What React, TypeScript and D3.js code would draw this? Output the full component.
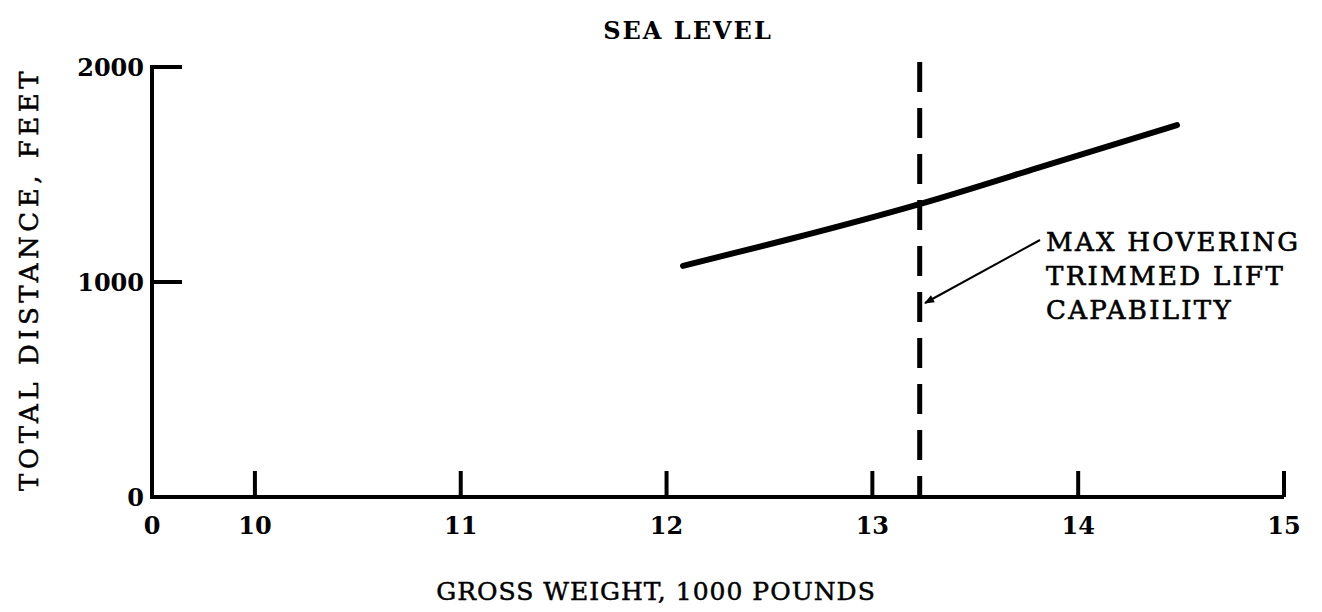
import React from 'react'
import * as d3 from 'd3'

// gross weight (1000 lb) vs total distance (ft), sea level
const weights = [12.08, 12.6, 13.22, 13.8, 14.48]
const distances = [1075, 1200, 1360, 1530, 1730]

const xTicks = [10, 11, 12, 13, 14, 15]
const yTicks = [0, 1000, 2000]
const hoverLimit = 13.23

const W = 1322
const H = 612
const serif = '"DejaVu Serif", "Liberation Serif", serif'

export default function App() {
  const x = d3.scaleLinear().domain([9.5, 15]).range([152, 1284])
  const y = d3.scaleLinear().domain([0, 2000]).range([497, 67])

  const pts: [number, number][] = weights.map((w, i) => [w, distances[i]])
  const line = d3
    .line<[number, number]>()
    .x(d => x(d[0]))
    .y(d => y(d[1]))
    .curve(d3.curveNatural)

  const x0 = x(9.5)
  const y0 = y(0)

  return (
    <svg width={W} height={H} style={{ position: 'absolute', left: 0, top: 0, background: '#fff' }}>
      <text x={688} y={39} textAnchor="middle" fontFamily={serif} fontWeight="bold" fontSize={24} letterSpacing={2}>
        SEA LEVEL
      </text>

      {/* axes */}
      <line x1={x0} y1={y(2000) - 2} x2={x0} y2={y0} stroke="#000" strokeWidth={4} />
      <line x1={x0 - 2} y1={y0} x2={x(15)} y2={y0} stroke="#000" strokeWidth={4} />
      {yTicks.filter(t => t > 0).map(t => (
        <line key={t} x1={x0} y1={y(t)} x2={x0 + 30} y2={y(t)} stroke="#000" strokeWidth={4} />
      ))}
      {xTicks.map(t => (
        <line key={t} x1={x(t)} y1={y0} x2={x(t)} y2={y0 - 26} stroke="#000" strokeWidth={4} />
      ))}

      {yTicks.map(t => (
        <text key={t} x={x0 - 8} y={y(t) + 9} textAnchor="end" fontFamily={serif} fontWeight="bold" fontSize={24}>
          {t}
        </text>
      ))}
      <text x={x0} y={y0 + 37} textAnchor="middle" fontFamily={serif} fontWeight="bold" fontSize={24}>
        0
      </text>
      {xTicks.map(t => (
        <text key={t} x={x(t)} y={y0 + 37} textAnchor="middle" fontFamily={serif} fontWeight="bold" fontSize={24}>
          {t}
        </text>
      ))}

      <text
        x={656}
        y={600}
        textAnchor="middle"
        fontFamily={serif}
        fontSize={25}
        letterSpacing={1}
        stroke="#000"
        strokeWidth={0.5}
      >
        GROSS WEIGHT, 1000 POUNDS
      </text>
      <text
        transform={`translate(38, ${(y(2000) + y0) / 2 - 3}) rotate(-90)`}
        textAnchor="middle"
        fontFamily={serif}
        fontSize={26}
        letterSpacing={4.5}
        stroke="#000"
        strokeWidth={0.5}
      >
        TOTAL DISTANCE, FEET
      </text>

      {/* data */}
      <path d={line(pts) ?? ''} fill="none" stroke="#000" strokeWidth={6} strokeLinecap="round" />
      <line
        x1={x(hoverLimit)}
        y1={62}
        x2={x(hoverLimit)}
        y2={y0}
        stroke="#000"
        strokeWidth={5}
        strokeDasharray="30 16"
      />

      {/* annotation */}
      <defs>
        <marker id="ah" viewBox="0 0 10 10" refX={9} refY={5} markerWidth={14} markerHeight={10} orient="auto" markerUnits="userSpaceOnUse">
          <path d="M0,1 L10,5 L0,9 z" fill="#000" />
        </marker>
      </defs>
      <line x1={1040} y1={240} x2={925} y2={303} stroke="#000" strokeWidth={2} markerEnd="url(#ah)" />
      <g fontFamily={serif} fontSize={26} letterSpacing={2.3} stroke="#000" strokeWidth={0.6}>
        <text x={1046} y={251}>MAX HOVERING</text>
        <text x={1046} y={285}>TRIMMED LIFT</text>
        <text x={1046} y={319}>CAPABILITY</text>
      </g>
    </svg>
  )
}
